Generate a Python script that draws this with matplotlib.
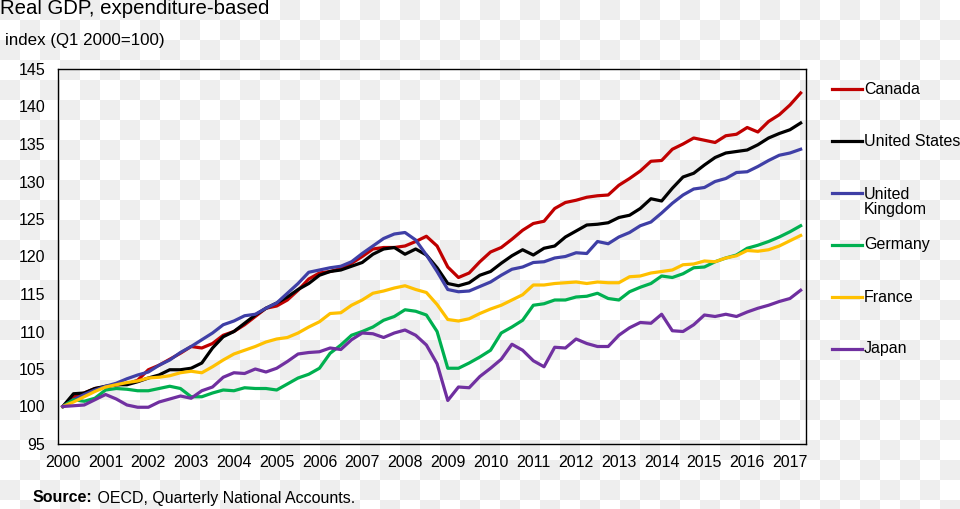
import numpy as np
import matplotlib.pyplot as plt
from matplotlib.lines import Line2D

plt.rcParams['font.family'] = ['Liberation Sans', 'DejaVu Sans']

# quarterly index, Q1 2000 = 100 (2000Q1 .. 2017Q2)
years = list(range(2000, 2018))
canada = [100.0, 101.3, 101.8, 102.4, 102.6, 102.9, 103.0, 103.5, 104.9, 105.5,
          106.3, 107.1, 108.0, 107.8, 108.4, 109.5, 110.0, 110.9, 112.0, 113.1,
          113.4, 114.2, 115.5, 117.0, 117.8, 118.0, 118.4, 119.1, 120.0, 121.0,
          121.2, 121.2, 121.4, 122.0, 122.7, 121.4, 118.6, 117.2, 117.8, 119.3,
          120.6, 121.2, 122.3, 123.5, 124.4, 124.7, 126.4, 127.2, 127.5, 127.9,
          128.1, 128.2, 129.5, 130.4, 131.4, 132.7, 132.8, 134.3, 135.0, 135.8,
          135.5, 135.2, 136.1, 136.3, 137.2, 136.6, 138.0, 138.9, 140.2, 141.8]
us = [100.0, 101.7, 101.8, 102.4, 102.7, 102.9, 102.9, 103.3, 103.8, 104.2,
      104.9, 104.9, 105.1, 105.8, 107.8, 109.3, 110.0, 111.1, 112.2, 113.1,
      113.8, 114.6, 115.6, 116.4, 117.5, 118.0, 118.2, 118.7, 119.2, 120.3,
      121.0, 121.2, 120.3, 121.0, 120.2, 118.5, 116.4, 116.1, 116.5, 117.5,
      118.0, 119.1, 120.1, 120.9, 120.2, 121.1, 121.4, 122.6, 123.4, 124.2,
      124.3, 124.5, 125.2, 125.5, 126.4, 127.7, 127.4, 129.1, 130.6, 131.1,
      132.2, 133.2, 133.8, 134.0, 134.2, 134.9, 135.8, 136.4, 136.9, 137.8]
uk = [100.0, 100.9, 101.6, 102.2, 102.7, 103.1, 103.7, 104.2, 104.6, 105.5,
      106.2, 107.2, 108.0, 108.9, 109.8, 110.9, 111.4, 112.1, 112.3, 113.1,
      113.8, 115.1, 116.4, 117.9, 118.2, 118.5, 118.7, 119.3, 120.4, 121.4,
      122.4, 123.0, 123.2, 122.2, 120.2, 118.0, 115.6, 115.3, 115.4, 116.0,
      116.6, 117.5, 118.3, 118.6, 119.2, 119.3, 119.8, 120.0, 120.5, 120.4,
      122.0, 121.7, 122.6, 123.2, 124.1, 124.6, 125.8, 127.1, 128.2, 129.0,
      129.2, 130.0, 130.4, 131.2, 131.3, 132.0, 132.8, 133.5, 133.8, 134.3]
germany = [100.0, 100.9, 100.7, 101.1, 102.2, 102.4, 102.3, 102.1, 102.1, 102.4,
           102.7, 102.4, 101.3, 101.3, 101.8, 102.2, 102.1, 102.5, 102.4, 102.4,
           102.2, 103.0, 103.8, 104.3, 105.1, 107.1, 108.2, 109.5, 110.0, 110.6,
           111.5, 112.0, 112.9, 112.7, 112.2, 110.0, 105.1, 105.1, 105.8, 106.6,
           107.5, 109.8, 110.6, 111.5, 113.5, 113.7, 114.2, 114.2, 114.6, 114.7,
           115.1, 114.4, 114.2, 115.3, 115.9, 116.4, 117.4, 117.2, 117.7, 118.5,
           118.6, 119.3, 119.8, 120.2, 121.1, 121.5, 122.0, 122.6, 123.3, 124.1]
france = [100.0, 100.6, 101.3, 102.0, 102.6, 102.9, 103.2, 103.4, 103.8, 103.9,
          104.1, 104.5, 104.7, 104.5, 105.3, 106.2, 107.0, 107.5, 108.0, 108.6,
          109.0, 109.2, 109.8, 110.6, 111.3, 112.4, 112.5, 113.5, 114.2, 115.1,
          115.4, 115.8, 116.1, 115.6, 115.2, 113.6, 111.6, 111.4, 111.7, 112.4,
          113.0, 113.5, 114.2, 114.9, 116.2, 116.2, 116.4, 116.5, 116.6, 116.4,
          116.6, 116.5, 116.5, 117.3, 117.4, 117.8, 118.0, 118.2, 118.9, 119.0,
          119.4, 119.3, 119.8, 120.1, 120.8, 120.7, 120.9, 121.4, 122.1, 122.8]
japan = [100.0, 100.1, 100.2, 100.9, 101.6, 101.0, 100.2, 99.9, 99.9, 100.6,
         101.0, 101.4, 101.1, 102.1, 102.6, 103.9, 104.5, 104.4, 105.0, 104.6,
         105.1, 106.0, 107.0, 107.2, 107.3, 107.8, 107.6, 108.9, 109.8, 109.7,
         109.2, 109.8, 110.2, 109.5, 108.2, 105.7, 100.8, 102.6, 102.5, 104.0,
         105.1, 106.3, 108.3, 107.5, 106.1, 105.3, 107.9, 107.8, 109.0, 108.4,
         108.0, 108.0, 109.5, 110.5, 111.2, 111.1, 112.3, 110.1, 110.0, 110.9,
         112.2, 112.0, 112.3, 112.0, 112.6, 113.1, 113.5, 114.0, 114.4, 115.5]

names = ["Canada", "United States", "United\nKingdom", "Germany", "France", "Japan"]
series = [canada, us, uk, germany, france, japan]
colors = ["#C00000", "#000000", "#3F3FA6", "#00B050", "#FFC000", "#7030A0"]

W, H = 960, 509
fig = plt.figure(figsize=(W / 100, H / 100), dpi=100)

# transparent-background checkerboard seen in the source image
yy, xx = np.mgrid[0:H, 0:W]
bg = np.where((xx // 20 + yy // 20) % 2 == 0, 0.93, 1.0)
fig.figimage(bg, cmap='gray', vmin=0, vmax=1, origin='upper', zorder=-5)

ax = fig.add_axes([58 / W, 1 - 444 / H, (806 - 58) / W, (444 - 69) / H])
ax.set_facecolor('none')
ax.set_zorder(2)

q = np.arange(len(canada))
for vals, col in zip(series, colors):
    ax.plot(q, vals, color=col, lw=2.3, solid_joinstyle='round')

ax.set_xlim(-0.45, 69.5)
ax.set_ylim(95, 145)
ax.set_yticks(range(95, 146, 5))
ax.set_xticks(range(0, len(canada), 4))
ax.set_xticklabels([str(y) for y in years])
ax.tick_params(length=0, labelsize=11.5)
ax.tick_params(axis='y', pad=9)
ax.tick_params(axis='x', pad=8)
for s in ax.spines.values():
    s.set_color('black')
    s.set_linewidth(1.0)

# legend on the right
for k, (name, col) in enumerate(zip(names, colors)):
    ypx = 89 + 52 * k
    fig.add_artist(Line2D([832 / W, 862 / W], [1 - ypx / H, 1 - ypx / H],
                          color=col, lw=2.3, transform=fig.transFigure))
    nl = name.count("\n")
    fig.text(864 / W, 1 - (ypx + 9 * nl) / H, name, fontsize=11.5,
             va='center', ha='left', linespacing=1.05)

fig.text(0, 1 - 9 / H, "Real GDP, expenditure-based", fontsize=14.7, va='center')
fig.text(5 / W, 1 - 40 / H, "index (Q1 2000=100)", fontsize=12.2, va='center')

t1 = fig.text(33 / W, 1 - 498 / H, "Source:", fontsize=11.5, fontweight='bold', va='center')
fig.canvas.draw()
bb = t1.get_window_extent()
fig.text(bb.x1 / W, 1 - 498 / H, " OECD, Quarterly National Accounts.",
         fontsize=11.5, va='center')

fig.savefig("out.png", dpi=100)
